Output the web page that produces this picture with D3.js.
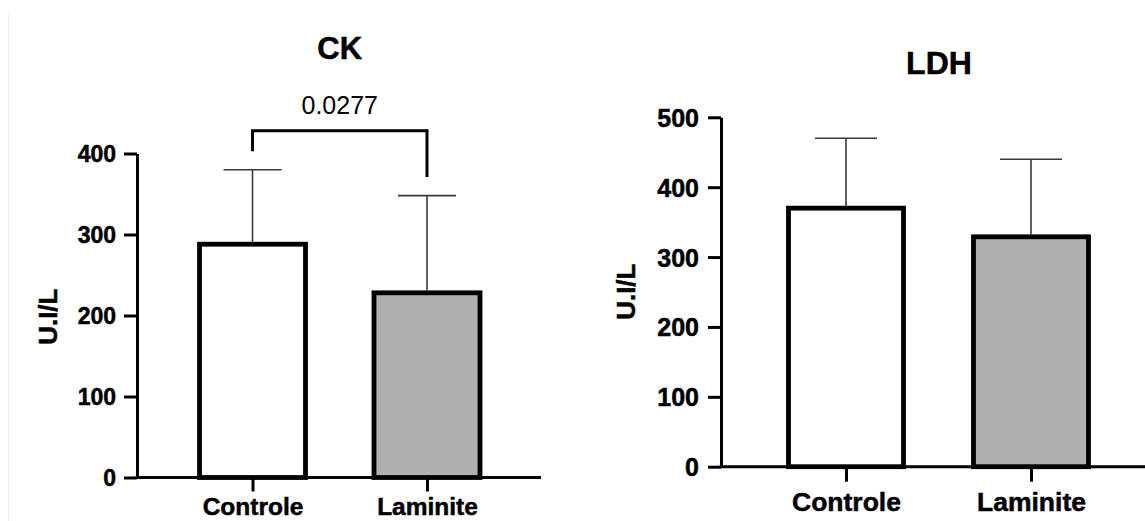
<!DOCTYPE html>
<html>
<head>
<meta charset="utf-8">
<script src="https://cdn.jsdelivr.net/npm/d3@7"></script>
<style>
  html, body { margin: 0; padding: 0; background: #ffffff; }
  svg { display: block; }
  text { font-family: "Liberation Sans", Arial, Helvetica, sans-serif; fill: #000; }
  text.heavy { stroke: #000; stroke-width: 0.5px; }
</style>
</head>
<body>
<svg id="chart" width="1145" height="521"></svg>
<script>
// Serum enzyme activity (U.I/L), mean + SD per group
const groups = ["Controle", "Laminite"];

const ckMeans = [288, 228];
const ckSD = [92, 120];
const ckTicks = [0, 100, 200, 300, 400];
const ckPValue = "0.0277";

const ldhMeans = [370, 329];
const ldhSD = [100, 111];
const ldhTicks = [0, 100, 200, 300, 400, 500];

const yLabel = "U.I/L";
const fills = ["#ffffff", "#b0b0b0"];

const svg = d3.select("#chart");

// faint edge of the left figure panel
svg.append("line")
  .attr("x1", 8.5).attr("x2", 8.5).attr("y1", 11).attr("y2", 521)
  .attr("stroke", "#ececec").attr("stroke-width", 1);

function drawPanel(cfg) {
  const g = svg.append("g");
  const data = groups.map((name, i) => ({ name, mean: cfg.means[i], sd: cfg.sd[i], fill: fills[i] }));

  const y = d3.scaleLinear().domain([0, d3.max(cfg.ticks)]).range([cfg.y0, cfg.y1]);
  const x = d3.scalePoint().domain(groups).range(cfg.xCenters);

  // bars
  g.selectAll("rect.bar").data(data).join("rect")
    .attr("class", "bar")
    .attr("x", d => x(d.name) - cfg.barW / 2)
    .attr("width", cfg.barW)
    .attr("y", d => y(d.mean))
    .attr("height", d => y(0) - y(d.mean))
    .attr("fill", d => d.fill)
    .attr("stroke", "#000")
    .attr("stroke-width", 4.8);

  // error bars (upper SD only)
  g.selectAll("line.err").data(data).join("line")
    .attr("class", "err")
    .attr("x1", d => x(d.name)).attr("x2", d => x(d.name))
    .attr("y1", d => y(d.mean) - 2).attr("y2", d => y(d.mean + d.sd))
    .attr("stroke", "#3a3a3a").attr("stroke-width", 1.6);
  g.selectAll("line.cap").data(data).join("line")
    .attr("class", "cap")
    .attr("x1", d => x(d.name) - cfg.capW / 2).attr("x2", d => x(d.name) + cfg.capW / 2)
    .attr("y1", d => y(d.mean + d.sd)).attr("y2", d => y(d.mean + d.sd))
    .attr("stroke", "#3a3a3a").attr("stroke-width", 1.6);

  // y axis
  const yAxis = g.append("g")
    .attr("transform", `translate(${cfg.axisX},0)`)
    .call(d3.axisLeft(y).tickValues(cfg.ticks).tickSize(13).tickSizeOuter(0).tickPadding(cfg.yPad).tickFormat(d3.format("d")));
  yAxis.select(".domain").attr("stroke", "#000").attr("stroke-width", 3);
  yAxis.selectAll(".tick line").attr("stroke", "#000").attr("stroke-width", 3);
  yAxis.selectAll(".tick text")
    .attr("class", "heavy")
    .attr("font-size", cfg.tickFont).attr("font-weight", "bold")
    .attr("font-family", '"Liberation Sans", Arial, sans-serif')
    .attr("dy", "0.36em");

  // x axis baseline
  g.append("line")
    .attr("x1", cfg.axisX - 1.5).attr("x2", cfg.xEnd)
    .attr("y1", y(0)).attr("y2", y(0))
    .attr("stroke", "#000").attr("stroke-width", 3);

  const xAxis = g.append("g")
    .attr("transform", `translate(0,${y(0)})`)
    .call(d3.axisBottom(x).tickSize(cfg.xTick).tickPadding(cfg.xPad));
  xAxis.select(".domain").remove();
  xAxis.selectAll(".tick line").attr("stroke", "#000").attr("stroke-width", 3);
  xAxis.selectAll(".tick text")
    .attr("class", "heavy")
    .attr("font-size", cfg.xFont).attr("font-weight", "bold")
    .attr("font-family", '"Liberation Sans", Arial, sans-serif');

  // title
  g.append("text")
    .attr("class", "heavy")
    .attr("x", cfg.titleX).attr("y", cfg.titleY)
    .attr("text-anchor", "middle")
    .attr("font-size", cfg.titleFont).attr("font-weight", "bold")
    .text(cfg.title);

  // y-axis label
  g.append("text")
    .attr("class", "heavy")
    .attr("transform", `translate(${cfg.labelX},${cfg.labelY}) rotate(-90)`)
    .attr("text-anchor", "middle")
    .attr("dominant-baseline", "central")
    .attr("font-size", cfg.labelFont).attr("font-weight", "bold")
    .text(yLabel);

  return { g, x, y, data };
}

const ck = drawPanel({
  title: "CK", means: ckMeans, sd: ckSD, ticks: ckTicks,
  y0: 477.5, y1: 153.5, xCenters: [252.5, 427], axisX: 137, xEnd: 541,
  barW: 106, capW: 58, tickFont: 23, yPad: 8, xFont: 24.5, xTick: 14, xPad: 6,
  titleX: 339.7, titleY: 59, titleFont: 31, labelX: 48, labelY: 316.7, labelFont: 26
});

// significance bracket between the two CK groups
{
  const { g, x, y, data } = ck;
  const legEnds = data.map(d => y(d.mean + d.sd) - 18.5);
  const barY = d3.min(legEnds) - 20.5;
  const xs = data.map(d => x(d.name));
  g.append("path")
    .attr("d", `M${xs[0]},${legEnds[0]} V${barY} H${xs[1]} V${legEnds[1]}`)
    .attr("fill", "none").attr("stroke", "#000").attr("stroke-width", 3);
  g.append("text")
    .attr("x", (xs[0] + xs[1]) / 2).attr("y", barY - 17)
    .attr("text-anchor", "middle")
    .attr("font-size", 25)
    .text(ckPValue);
}

drawPanel({
  title: "LDH", means: ldhMeans, sd: ldhSD, ticks: ldhTicks,
  y0: 466.7, y1: 117.3, xCenters: [846, 1031], axisX: 721, xEnd: 1145,
  barW: 115, capW: 62, tickFont: 25, yPad: 9, xFont: 26.5, xTick: 15, xPad: 10.5,
  titleX: 939, titleY: 74, titleFont: 32, labelX: 626, labelY: 291.7, labelFont: 26
});
</script>
</body>
</html>
